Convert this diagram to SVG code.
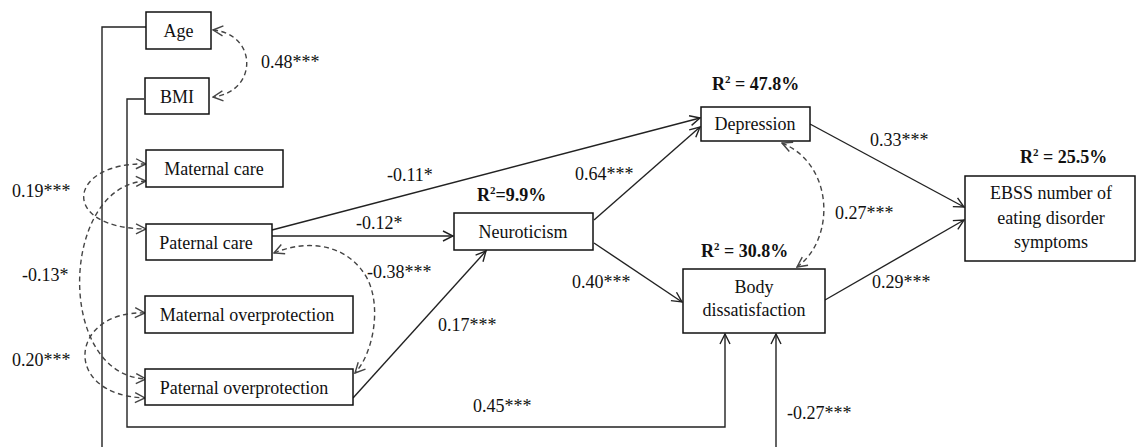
<svg xmlns="http://www.w3.org/2000/svg" width="1137" height="447" viewBox="0 0 1137 447">
<style>
.box{fill:#fff;stroke:#111;stroke-width:1.5}
.t{font-family:"Liberation Serif","Times New Roman",serif;font-size:18px;fill:#111}
.b{font-weight:bold}
.ln{fill:none;stroke:#222;stroke-width:1.4}
.ds{fill:none;stroke:#444;stroke-width:1.4;stroke-dasharray:5,3.5}
.arr{marker-end:url(#ah)}
.dbl{marker-start:url(#dh);marker-end:url(#dh)}
</style>
<defs>
<marker id="ah" viewBox="0 0 12 12" refX="11" refY="6" markerWidth="12" markerHeight="12" markerUnits="userSpaceOnUse" orient="auto">
<path d="M1,1 L11,6 L1,11" fill="none" stroke="#222" stroke-width="1.4"/>
</marker>
<marker id="dh" viewBox="0 0 12 12" refX="11" refY="6" markerWidth="12" markerHeight="12" markerUnits="userSpaceOnUse" orient="auto-start-reverse">
<path d="M1,1 L11,6 L1,11" fill="none" stroke="#444" stroke-width="1.4"/>
</marker>
</defs>
<rect width="1137" height="447" fill="#fff"/>

<g id="connectors">
<path class="ln" d="M146,27 H102 V450"/>
<path class="ln arr" d="M144,99 H127 V427 H725 V334"/>
<path class="ln arr" d="M776,450 V334"/>
<path class="ln arr" d="M272,230 L700,118"/>
<path class="ln arr" d="M272,236 L453,236"/>
<path class="ln arr" d="M353,398 L486,251"/>
<path class="ln arr" d="M594,220 L700,127"/>
<path class="ln arr" d="M594,243 L682,302"/>
<path class="ln arr" d="M810,124 L964,207"/>
<path class="ln arr" d="M825,300 L964,220"/>
<path class="ds dbl" d="M213,30 C258,34 258,92 213,97"/>
<path class="ds dbl" d="M146,164 C68,162 58,228 146,229"/>
<path class="ds dbl" d="M146,181 C60,185 55,375 146,379"/>
<path class="ds dbl" d="M145,313 C70,310 60,395 145,398"/>
<path class="ds dbl" d="M274,253 C310,238 350,245 368,280 C382,310 372,355 355,373"/>
<path class="ds dbl" d="M782,143 C835,165 835,240 797,267"/>
</g>

<g id="labels">
<text class="t" x="261" y="68">0.48***</text>
<text class="t" x="12" y="197">0.19***</text>
<text class="t" x="22" y="281">-0.13*</text>
<text class="t" x="12" y="366">0.20***</text>
<text class="t" x="387" y="181">-0.11*</text>
<text class="t" x="356" y="229">-0.12*</text>
<text class="t" x="367" y="278">-0.38***</text>
<text class="t" x="438" y="331">0.17***</text>
<text class="t" x="473" y="412">0.45***</text>
<text class="t" x="787" y="419">-0.27***</text>
<text class="t" x="575" y="180">0.64***</text>
<text class="t" x="572" y="288">0.40***</text>
<text class="t" x="870" y="146">0.33***</text>
<text class="t" x="835" y="219">0.27***</text>
<text class="t" x="872" y="288">0.29***</text>
<text class="t b" x="477" y="201">R<tspan font-size="11" dy="-7">2</tspan><tspan dy="7">=9.9%</tspan></text>
<text class="t b" x="712" y="90">R<tspan font-size="11" dy="-7">2</tspan><tspan dy="7"> = 47.8%</tspan></text>
<text class="t b" x="701" y="257">R<tspan font-size="11" dy="-7">2</tspan><tspan dy="7"> = 30.8%</tspan></text>
<text class="t b" x="1020" y="163">R<tspan font-size="11" dy="-7">2</tspan><tspan dy="7"> = 25.5%</tspan></text>
</g>

<g id="age"><rect class="box" x="146" y="12" width="65" height="37"/><text class="t" x="178.5" y="37" text-anchor="middle">Age</text></g>
<g id="bmi"><rect class="box" x="145" y="78" width="64" height="36"/><text class="t" x="177" y="103" text-anchor="middle">BMI</text></g>
<g id="maternal-care"><rect class="box" x="146" y="150" width="137" height="37"/><text class="t" x="214" y="175" text-anchor="middle">Maternal care</text></g>
<g id="paternal-care"><rect class="box" x="146" y="224" width="126" height="36"/><text class="t" x="206" y="249" text-anchor="middle">Paternal care</text></g>
<g id="maternal-overprotection"><rect class="box" x="145" y="296" width="208" height="37"/><text class="t" x="247" y="321" text-anchor="middle">Maternal overprotection</text></g>
<g id="paternal-overprotection"><rect class="box" x="145" y="369" width="208" height="36"/><text class="t" x="244" y="394" text-anchor="middle">Paternal overprotection</text></g>
<g id="neuroticism"><rect class="box" x="454" y="213" width="139" height="37"/><text class="t" x="523" y="238" text-anchor="middle">Neuroticism</text></g>
<g id="depression"><rect class="box" x="701" y="107" width="109" height="34"/><text class="t" x="755" y="130" text-anchor="middle">Depression</text></g>
<g id="body-dissatisfaction"><rect class="box" x="683" y="269" width="142" height="64"/><text class="t" x="754" y="293" text-anchor="middle">Body</text><text class="t" x="754" y="316" text-anchor="middle">dissatisfaction</text></g>
<g id="ebss"><rect class="box" x="965" y="176" width="170" height="85"/><text class="t" x="1051" y="199" text-anchor="middle">EBSS number of</text><text class="t" x="1051" y="224" text-anchor="middle">eating disorder</text><text class="t" x="1051" y="248" text-anchor="middle">symptoms</text></g>
</svg>
